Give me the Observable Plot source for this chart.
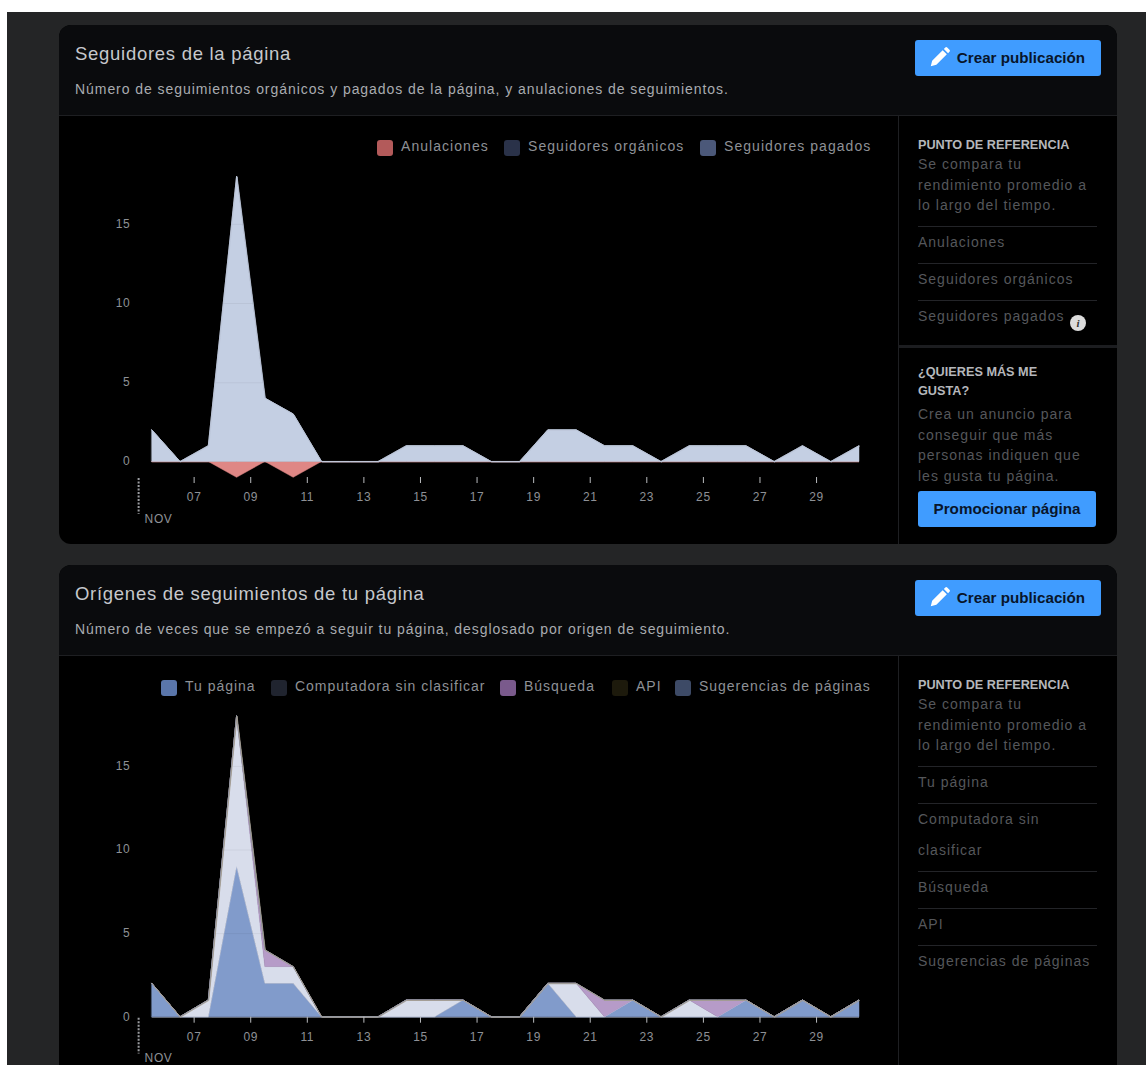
<!DOCTYPE html>
<html lang="es"><head><meta charset="utf-8">
<script src="https://cdn.jsdelivr.net/npm/d3@7"></script>
<script src="https://cdn.jsdelivr.net/npm/@observablehq/plot@0.6"></script>
<style>
html,body{margin:0;padding:0;background:#fff;overflow:hidden;width:1146px;height:1065px}
body,svg text{font-family:"Liberation Sans",Arial,sans-serif}
#page{position:absolute;left:7px;top:12px;width:1139px;height:1053px;background:#242526}
.card{position:absolute;left:59px;width:1058px;background:#000;border-radius:12px;overflow:hidden}
.head{position:absolute;left:0;top:0;width:100%;height:90px;background:#0a0b0d;border-bottom:1px solid #1e1f22}
.vsep{position:absolute;left:839px;top:91px;bottom:0;width:1px;background:#1e1f22}
.t{position:absolute;white-space:nowrap;transform:translateY(-50%);line-height:1}
.title{font-size:18.5px;color:#c6c8cc;letter-spacing:.72px}
.sub{font-size:14px;color:#a9acb0;letter-spacing:.94px}
.bh{font-size:12.7px;font-weight:bold;color:#b5b7bb}
.st{font-size:14px;color:#55575b;letter-spacing:1px}
.hl{position:absolute;left:859px;width:179px;height:1px;background:#232428}
.btn{position:absolute;background:#409cff;border-radius:3px;color:#08152a;font-weight:bold;font-size:15.2px;display:flex;align-items:center;justify-content:center;white-space:nowrap;box-sizing:border-box;padding-bottom:2px}
.sw{position:absolute;width:16px;height:16px;border-radius:3px;transform:translateY(-50%)}
.lg{font-size:14px;color:#8e9196}
.plot{position:absolute;left:1px;display:block}
</style></head><body>
<div id="page"></div>
<script>
// ---- data ----
const days = [5.5,6.5,7.5,8.5,9.5,10.5,11.5,12.5,13.5,14.5,15.5,16.5,17.5,18.5,19.5,20.5,21.5,22.5,23.5,24.5,25.5,26.5,27.5,28.5,29.5,30.5];
const tickDays = [7,9,11,13,15,17,19,21,23,25,27,29];
const yTicks = [0,5,10,15];
// chart 1
const anulaciones = [0,0,0,-1,0,-1,0,0,0,0,0,0,0,0,0,0,0,0,0,0,0,0,0,0,0,0];
const organicos  = [2,0,1,18,4,3,0,0,0,1,1,1,0,0,2,2,1,1,0,1,1,1,0,1,0,1];
const pagados    = [0,0,0,0,0,0,0,0,0,0,0,0,0,0,0,0,0,0,0,0,0,0,0,0,0,0];
// chart 2
const tuPagina   = [2,0,0,9,2,2,0,0,0,0,0,1,0,0,2,0,0,1,0,0,0,1,0,1,0,1];
const computadora= [0,0,1,9,1,1,0,0,0,1,1,0,0,0,0,2,0,0,0,1,0,0,0,0,0,0];
const busqueda   = [0,0,0,0,1,0,0,0,0,0,0,0,0,0,0,0,1,0,0,0,1,0,0,0,0,0];
const api        = [0,0,0,0,0,0,0,0,0,0,0,0,0,0,0,0,0,0,0,0,0,0,0,0,0,0];
const sugerencias= [0,0,0,0,0,0,0,0,0,0,0,0,0,0,0,0,0,0,0,0,0,0,0,0,0,0];

const charts = [
 {top:25,height:519,lgSpace:"1.05px",
  title:"Seguidores de la página",
  sub:"Número de seguimientos orgánicos y pagados de la página, y anulaciones de seguimientos.",
  series:[
   {name:"Anulaciones",values:anulaciones,fill:"#df8785",swatch:"#b35a5a",lx:377},
   {name:"Seguidores orgánicos",values:organicos,fill:"#c4cfe3",swatch:"#2a3249",lx:504},
   {name:"Seguidores pagados",values:pagados,fill:"#c4cfe3",swatch:"#4b5879",lx:700}],
  plot:{h:428,mt:44.4,mb:67,dom:[-0.98,19],nov:[-1.04,-3.3],novY:-3.6,top:"#bcc6d9",base:"#8e5f5f"},
  sideTop:145,
  side:[[242,"Anulaciones"],[279,"Seguidores orgánicos"],[316,"Seguidores pagados"]],
  lines:[226,263,300]},
 {top:565,height:520,lgSpace:".98px",
  title:"Orígenes de seguimientos de tu página",
  sub:"Número de veces que se empezó a seguir tu página, desglosado por origen de seguimiento.",
  series:[
   {name:"Tu página",values:tuPagina,fill:"#819bcb",swatch:"#5a76aa",lx:161},
   {name:"Computadora sin clasificar",values:computadora,fill:"#d8ddeb",swatch:"#20242f",lx:271},
   {name:"Búsqueda",values:busqueda,fill:"#b69bc8",swatch:"#7a5a8c",lx:500},
   {name:"API",values:api,fill:"#a89e88",swatch:"#1d1a0c",lx:612},
   {name:"Sugerencias de páginas",values:sugerencias,fill:"#8794ad",swatch:"#3d4a66",lx:675}],
  plot:{h:409,mt:43,mb:48.3,dom:[0,19],nov:[-0.06,-2.2],novY:-2.43,top:"#a59d8e",base:"#8d919c"},
  sideTop:685,
  side:[[782,"Tu página"],[819,"Computadora sin"],[850,"clasificar"],[887,"Búsqueda"],[924,"API"],[961,"Sugerencias de páginas"]],
  lines:[766,803,871,908,945]}
];

const PENCIL = '<svg width="21" height="21" viewBox="0 0 24 24" style="position:absolute;left:14px;top:7px"><path fill="#fff" d="M2 22l1.6-6.4L15.6 3.6l4.8 4.8L8.4 20.4zM17 2.2l1.6-1.6a1.6 1.6 0 0 1 2.2 0l2.6 2.6a1.6 1.6 0 0 1 0 2.2L21.8 7z"/></svg>';

function el(parent,cls,style,html){
  const e=document.createElement("div");e.className=cls;
  Object.assign(e.style,style);if(html!=null)e.innerHTML=html;parent.appendChild(e);return e;
}
function text(card,c,x,y,str,cls){ // page coords
  return el(card,"t "+cls,{left:(x-59)+"px",top:(y-c.top)+"px"},str);
}

for(const c of charts){
  const card=el(document.body,"card",{top:c.top+"px",height:c.height+"px"});
  el(card,"head",{});
  el(card,"vsep",{});
  text(card,c,75,c.top+29,c.title,"title");
  text(card,c,75,c.top+63.5,c.sub,"sub");
  el(card,"btn",{left:"856px",top:"15px",width:"186px",height:"36px",paddingLeft:"26px"},PENCIL+"Crear publicación");

  // legend
  const lc=c.top+121;
  for(const s of c.series){
    el(card,"sw",{left:(s.lx-59)+"px",top:(lc+2-c.top)+"px",background:s.swatch});
    text(card,c,s.lx+24,lc,s.name,"lg").style.letterSpacing=c.lgSpace;
  }

  // sidebar
  text(card,c,918,c.sideTop,"PUNTO DE REFERENCIA","bh");
  ["Se compara tu","rendimiento promedio a","lo largo del tiempo."].forEach((s,i)=>
    text(card,c,918,c.sideTop+19+i*20.5,s,"st"));
  for(const [y,s] of c.side) text(card,c,918,y,s,"st");
  for(const y of c.lines) el(card,"hl",{top:(y-c.top)+"px"});

  // chart
  const names=c.series.map(s=>s.name);
  const long=c.series.flatMap(s=>s.values.map((v,i)=>({day:days[i],value:v,series:s.name})));
  const positive=c.series.filter(s=>s.values.some(v=>v>0));
  const totals=days.map((d,i)=>({day:d,total:d3.sum(positive,s=>s.values[i])}));
  const p=c.plot;
  const marks=[
    Plot.ruleY([0],{x1:days[0],x2:days[days.length-1],stroke:p.base,strokeWidth:1}),
    Plot.areaY(long,Plot.stackY({x:"day",y:"value",z:"series",fill:"series",stroke:"series",strokeWidth:.5,order:names})),
    Plot.ruleY(yTicks.filter(v=>v>0),{stroke:"#000",strokeOpacity:.05}),
    Plot.line(totals,{x:"day",y:"total",stroke:p.top,strokeWidth:.8}),
    Plot.axisY({ticks:yTicks,tickSize:0,tickPadding:22,color:"#8e9196",fontSize:12,label:null,dy:-.5}),
    Plot.axisX({ticks:tickDays,tickSize:6,tickPadding:9,stroke:"#b9bbbe",color:"#8e9196",fontSize:12,label:null,dx:-.5,
      tickFormat:d=>String(d).padStart(2,"0")}),
    Plot.ruleX([5.02],{y1:p.nov[0],y2:p.nov[1],stroke:"#9a9ca0",strokeWidth:2,strokeDasharray:"2,1.5"}),
    Plot.text(["NOV"],{x:5.02,y:p.novY,text:d=>d,dx:6,textAnchor:"start",fill:"#8e9196",fontSize:12})
  ];
  const svg=Plot.plot({
    width:838,height:p.h,marginLeft:91.7,marginRight:39,marginTop:p.mt,marginBottom:p.mb,
    style:{background:"transparent",overflow:"visible"},
    x:{domain:[days[0],days[days.length-1]]},
    y:{domain:p.dom},
    color:{domain:names,range:c.series.map(s=>s.fill)},
    marks
  });
  svg.classList.add("plot");
  svg.style.top="91px";
  svg.style.letterSpacing=".6px";
  card.appendChild(svg);
}

// extras on the first card
const c0=charts[0],card0=document.querySelector(".card");
el(card0,"",{position:"absolute",left:"839px",top:"320px",width:"219px",height:"3px",background:"#1c1d20"});
el(card0,"",{position:"absolute",left:"1011px",top:"290px",width:"16px",height:"16px",borderRadius:"50%",background:"#dcdcdc",color:"#333",
  font:"italic bold 11px/16px 'Liberation Serif',serif",textAlign:"center"},"i");
text(card0,c0,918,372,"¿QUIERES MÁS ME","bh");
text(card0,c0,918,390.5,"GUSTA?","bh");
["Crea un anuncio para","conseguir que más","personas indiquen que","les gusta tu página."].forEach((s,i)=>
  text(card0,c0,918,414+i*20.7,s,"st"));
el(card0,"btn",{left:"859px",top:"466px",width:"178px",height:"36px"},"Promocionar página");
</script>
</body></html>
